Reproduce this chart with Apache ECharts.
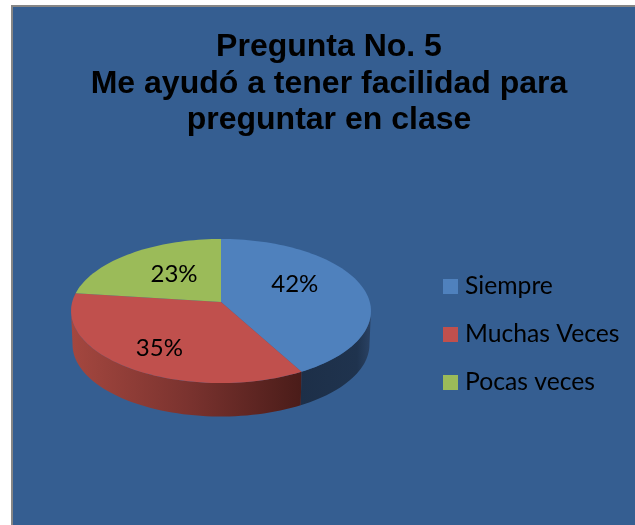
<!DOCTYPE html>
<html>
<head>
<meta charset="utf-8">
<title>Pregunta No. 5</title>
<script src="https://cdn.jsdelivr.net/npm/echarts@6/dist/echarts.min.js"></script>
<style>
  html, body { margin: 0; padding: 0; background: #fff; }
  #chart { width: 635px; height: 525px; }
</style>
</head>
<body>
<div id="chart"></div>
<script>
// datos de la grafica
const titleLines = ['Pregunta No. 5', 'Me ayudó a tener facilidad para', 'preguntar en clase'];
const categories = ['Siempre', 'Muchas Veces', 'Pocas veces'];
const percents = [42, 35, 23];

const topColors = ['#4f81bd', '#c0504d', '#9bbb59'];
const panelColor = '#355e91';

// geometria del pastel en perspectiva
const centerX = 221;
const centerY = 302;
const radiusX = 148.8;
const radiusY = 70.9;
const persp = 0.125;
const depth = 33.5;
const wallShrink = 0.99;
// donde cae cada etiqueta, como fraccion del radio, y su ajuste vertical
const labelFrac = [0.52, 0.685, 0.5];
const labelNudge = [-9, 3, -2];

function project(deg, frac) {
  const a = deg * Math.PI / 180;
  const u = Math.sin(a) * frac;
  const v = -Math.cos(a) * frac;
  const w = 1 - persp * v;
  return [centerX + radiusX * u / w, centerY + radiusY * v / w];
}

function arcPoints(from, to) {
  const pts = [];
  const steps = Math.max(2, Math.ceil(Math.abs(to - from) / 2));
  for (let i = 0; i <= steps; i++) {
    pts.push(project(from + (to - from) * i / steps, 1));
  }
  return pts;
}

function wallFill(index) {
  if (index === 0) {
    return {
      type: 'linear', x: 0, y: 0, x2: 1, y2: 0,
      colorStops: [{ offset: 0, color: '#1d2f48' }, { offset: 0.8, color: '#1f334e' }, { offset: 1, color: '#2a4264' }]
    };
  }
  return {
    type: 'linear', x: 0, y: 0, x2: 1, y2: 0,
    colorStops: [
      { offset: 0, color: '#a4473f' },
      { offset: 0.5, color: '#7b332f' },
      { offset: 1, color: '#4a1c19' }
    ]
  };
}

// angulos acumulados a partir de los porcentajes
const total = percents.reduce((s, v) => s + v, 0);
const slices = [];
let acc = 0;
percents.forEach((v) => {
  slices.push([acc / total * 360, (acc + v) / total * 360]);
  acc += v;
});

// parte frontal visible de la pared lateral
const frontFrom = 90 + Math.asin(persp) * 180 / Math.PI;
const frontTo = 360 - frontFrom;

function renderSlice(index) {
  return function (params, api) {
    const start = api.value(0);
    const end = api.value(1);
    const children = [];
    const wallA = Math.max(start, frontFrom);
    const wallB = Math.min(end, frontTo);
    if (wallB > wallA) {
      const upper = arcPoints(wallA, wallB);
      const lower = upper.slice().reverse().map((p) => [
        centerX + (p[0] - centerX) * wallShrink,
        p[1] + depth
      ]);
      children.push({
        type: 'polygon',
        shape: { points: upper.concat(lower) },
        style: { fill: wallFill(index) }
      });
    }
    children.push({
      type: 'polygon',
      shape: { points: [[centerX, centerY]].concat(arcPoints(start, end)) },
      style: { fill: topColors[index] }
    });
    const spot = project((start + end) / 2, labelFrac[index]);
    children.push({
      type: 'text',
      z2: 10,
      style: {
        x: spot[0],
        y: spot[1] + labelNudge[index],
        text: percents[index] + '%',
        fill: '#000',
        font: '24px Lato',
        align: 'center',
        verticalAlign: 'middle'
      }
    });
    return { type: 'group', children: children };
  };
}

const chart = echarts.init(document.getElementById('chart'), null, { renderer: 'canvas' });

const option = {
  animation: false,
  backgroundColor: '#fff',
  color: topColors,
  graphic: [{
    type: 'rect',
    z: -10,
    shape: { x: 12, y: 6, width: 660, height: 560 },
    style: { fill: panelColor, stroke: '#868686', lineWidth: 2 }
  }],
  title: {
    text: titleLines.join('\n'),
    left: 329,
    top: 29,
    padding: 0,
    textAlign: 'center',
    textStyle: {
      fontFamily: 'Liberation Sans',
      fontWeight: 'bold',
      fontSize: 32,
      lineHeight: 36.5,
      color: '#000'
    }
  },
  legend: {
    orient: 'vertical',
    left: 443,
    top: 274,
    padding: 0,
    itemWidth: 15,
    itemHeight: 15,
    itemGap: 23,
    data: categories,
    icon: 'rect',
    textStyle: {
      fontFamily: 'Lato',
      fontSize: 24.7,
      lineHeight: 23,
      color: '#000',
      padding: [0, 0, 0, 2]
    }
  },
  series: categories.map((name, i) => ({
    type: 'custom',
    name: name,
    coordinateSystem: 'none',
    silent: true,
    data: [slices[i]],
    renderItem: renderSlice(i)
  }))
};

chart.setOption(option);
</script>
</body>
</html>
